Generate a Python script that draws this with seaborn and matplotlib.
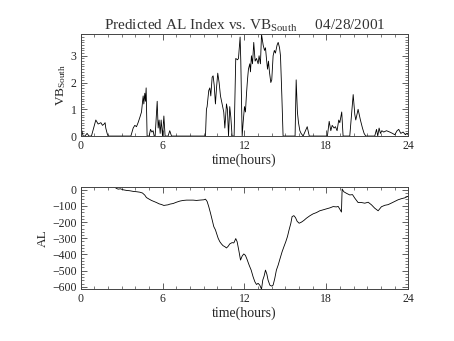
import matplotlib
matplotlib.use("Agg")
import matplotlib.pyplot as plt
import seaborn as sns
import pandas as pd
from matplotlib.ticker import MultipleLocator

# --- data ---
vb_hours = [0.0, 0.17, 0.30, 0.46, 0.60, 0.78, 1.10, 1.27, 1.47, 1.59, 1.71, 1.78, 1.83, 1.93, 2.00,
            3.67, 3.84, 3.96, 4.08, 4.20, 4.33, 4.45, 4.57, 4.62, 4.69, 4.74, 4.79, 4.86,
            5.01, 5.11, 5.21, 5.30, 5.38, 5.45, 5.60, 5.67, 5.74, 5.82, 5.89, 5.99, 6.09, 6.18,
            6.40, 6.52, 6.65,
            9.14, 9.21, 9.26, 9.38, 9.46, 9.53, 9.63, 9.70, 9.78, 9.87, 9.95, 10.04, 10.14, 10.24,
            10.36, 10.48, 10.56, 10.68, 10.75, 10.83, 10.92, 11.00, 11.09, 11.24, 11.36, 11.49,
            11.56, 11.68, 11.73, 11.83, 11.90, 12.00, 12.07, 12.15, 12.22, 12.29, 12.39, 12.44,
            12.51, 12.59, 12.68, 12.78, 12.88, 13.00, 13.07, 13.17, 13.25, 13.37, 13.47, 13.54,
            13.61, 13.69, 13.76, 13.83, 13.93, 14.00, 14.10, 14.19, 14.27, 14.39, 14.47, 14.57,
            14.64, 14.74, 14.83,
            15.71, 15.79, 15.88, 15.96, 16.06, 16.15, 16.30, 16.60, 16.75,
            18.08, 18.21, 18.33, 18.43, 18.57, 18.67, 18.79, 18.91, 18.99, 19.13, 19.23,
            19.72, 19.97, 20.09, 20.16, 20.33, 20.50, 20.65, 20.77, 20.89,
            21.55, 21.68, 21.77, 21.87, 21.97, 22.07, 22.21, 22.41, 22.65, 22.85, 23.02, 23.19,
            23.31, 23.46, 23.63, 23.80, 23.92, 24.0]
vb_south = [0.35, 0.0, 0.0, 0.1, 0.0, 0.0, 0.6, 0.45, 0.5, 0.4, 0.45, 0.5, 0.3, 0.1, 0.0,
            0.0, 0.3, 0.4, 0.35, 0.5, 0.7, 0.9, 1.5, 1.2, 1.6, 1.3, 1.8, 0.0,
            0.0, 0.25, 0.15, 0.2, 0.0, 0.0, 1.3, 0.3, 0.6, 0.1, 0.6, 0.0, 0.75, 0.0,
            0.0, 0.2, 0.0,
            0.0, 1.0, 1.1, 1.7, 1.8, 1.5, 2.2, 2.25, 1.9, 1.2, 1.8, 2.35, 2.0, 1.5,
            1.2, 0.9, 0.3, 1.2, 1.0, 0.0, 1.1, 0.7, 0.0, 0.0, 2.9, 2.85,
            2.9, 3.7, 2.8, 0.0, 0.5, 1.1, 0.9, 1.6, 2.1, 2.5, 2.7, 2.4,
            3.0, 2.7, 3.5, 2.8, 2.9, 2.7, 3.0, 2.7, 3.8, 3.4, 3.2, 3.3,
            2.9, 2.5, 2.8, 2.4, 2.0, 2.1, 3.0, 3.2, 3.1, 3.4, 3.5, 3.3,
            3.0, 1.5, 0.0,
            0.0, 2.1, 0.9, 0.5, 0.2, 0.1, 0.0, 0.35, 0.0,
            0.0, 0.55, 0.2, 0.4, 0.3, 0.35, 0.2, 0.6, 0.5, 0.9, 0.0,
            0.0, 1.55, 0.8, 0.6, 1.0, 0.6, 0.3, 0.1, 0.0,
            0.0, 0.25, 0.0, 0.3, 0.1, 0.2, 0.15, 0.2, 0.15, 0.1, 0.05, 0.2,
            0.25, 0.1, 0.15, 0.05, 0.1, 0.05]

al_hours = [2.57, 2.74, 2.91, 3.10, 3.35, 3.59, 3.84, 4.08, 4.33, 4.52, 4.69, 4.81, 5.01, 5.18,
            5.35, 5.55, 5.74, 5.91, 6.09, 6.23, 6.40, 6.52, 6.77, 7.01, 7.26, 7.50, 7.75, 7.99,
            8.24, 8.48, 8.72, 9.02, 9.14, 9.26, 9.38, 9.51, 9.63, 9.75, 9.87, 9.95, 10.07, 10.19,
            10.31, 10.43, 10.56, 10.68, 10.80, 10.92, 11.09, 11.22, 11.36, 11.46, 11.58, 11.71,
            11.83, 11.95, 12.07, 12.19, 12.34, 12.49, 12.63, 12.76, 12.88, 13.00, 13.12, 13.25,
            13.34, 13.44, 13.54, 13.64, 13.73, 13.86, 13.98, 14.10, 14.22, 14.34, 14.47, 14.59,
            14.76, 14.91, 15.03, 15.15, 15.27, 15.40, 15.49, 15.62, 15.74, 15.86, 16.01, 16.18,
            16.35, 16.54, 16.79, 17.03, 17.28, 17.52, 17.77, 18.01, 18.26, 18.50, 18.74, 18.87,
            18.99, 19.11, 19.16, 19.28, 19.48, 19.72, 19.92, 20.09, 20.33, 20.58, 20.82, 21.07,
            21.31, 21.55, 21.80, 22.04, 22.29, 22.53, 22.78, 23.02, 23.26, 23.51, 23.75, 24.0]
al_index = [10, 4, 6, 0, -4, -6, -10, -12, -15, -20, -33, -48, -58, -66,
            -72, -79, -87, -91, -97, -95, -93, -89, -85, -77, -70, -66, -64, -64,
            -64, -66, -64, -62, -58, -72, -104, -145, -186, -228, -248, -269, -300, -321,
            -335, -346, -352, -360, -350, -335, -327, -329, -302, -321, -373, -435,
            -410, -397, -406, -431, -466, -497, -538, -569, -586, -579, -590, -615,
            -559, -534, -497, -522, -559, -590, -596, -590, -549, -497, -466, -431,
            -383, -348, -321, -290, -248, -207, -166, -160, -172, -195, -207, -200,
            -190, -176, -161, -149, -141, -130, -124, -118, -112, -104, -106, -103,
            -120, -138, 5, -12, -22, -32, -30, -52, -79, -79, -83, -77,
            -93, -114, -130, -105, -96, -92, -82, -72, -62, -55, -50, -40]

x_ticks = [0, 6, 12, 18, 24]

sns.set_style("ticks")
plt.rcParams['font.family'] = ['Liberation Serif', 'DejaVu Serif']
plt.rcParams['mathtext.fontset'] = 'custom'
plt.rcParams['mathtext.rm'] = 'Liberation Serif'
plt.rcParams['mathtext.it'] = 'Liberation Serif'

fig = plt.figure(figsize=(4.54, 3.41), dpi=100)
ax1 = fig.add_axes([0.178, 0.601, 0.721, 0.299])
ax2 = fig.add_axes([0.178, 0.152, 0.721, 0.300])

df_vb = pd.DataFrame({"time": vb_hours, "vb": vb_south})
df_al = pd.DataFrame({"time": al_hours, "al": al_index})

sns.lineplot(data=df_vb, x="time", y="vb", ax=ax1, color="black", linewidth=0.6, sort=False)
sns.lineplot(data=df_al, x="time", y="al", ax=ax2, color="black", linewidth=0.6, sort=False)

fs = 8.5
for ax in (ax1, ax2):
    ax.set_xlim(0, 24)
    ax.set_xticks(x_ticks)
    ax.set_xticklabels([str(t) for t in x_ticks])
    ax.xaxis.set_minor_locator(MultipleLocator(1))
    ax.tick_params(which='both', direction='in', top=True, right=True, labelsize=fs, color='#444444', pad=3)
    ax.tick_params(which='major', length=4, width=0.6)
    ax.tick_params(which='minor', length=2, width=0.5)
    for s in ax.spines.values():
        s.set_linewidth(0.7)
        s.set_color('#444444')
    ax.set_xlabel("time(hours)", fontsize=10, labelpad=1)

ax1.set_ylim(0, 3.81)
ax1.set_yticks([0, 1, 2, 3])
ax1.yaxis.set_minor_locator(MultipleLocator(0.1))
ax1.set_ylabel(r"VB$_{\mathrm{South}}$", fontsize=9.5, labelpad=2)
ax1.set_title(r"Predicted AL Index vs. VB$_{\mathrm{South}}$     04/28/2001", fontsize=11, pad=2, color='#333333')

ax2.set_ylim(-615, 18)
ax2.set_yticks([0, -100, -200, -300, -400, -500, -600])
ax2.yaxis.set_minor_locator(MultipleLocator(20))
ax2.set_ylabel("AL", fontsize=9.5, labelpad=2)

fig.savefig("out.png", dpi=100)
